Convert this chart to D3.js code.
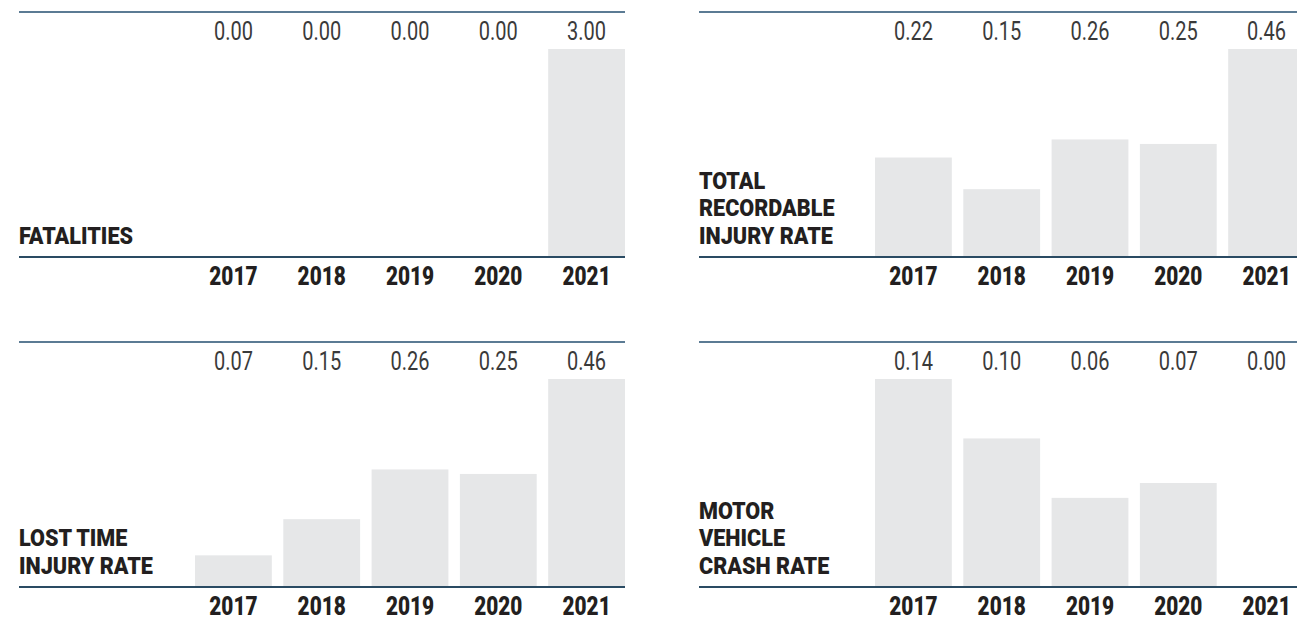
<!DOCTYPE html>
<html>
<head>
<meta charset="utf-8">
<script src="https://cdn.jsdelivr.net/npm/d3@7"></script>
<style>
  body { margin: 0; background: #fff; }
  svg { display: block; }
  .title { font-family: Roboto, 'DejaVu Sans Condensed', sans-serif; font-weight: 900; font-size: 24px; fill: #231f20; }
  .year { font-family: Roboto, 'DejaVu Sans Condensed', sans-serif; font-weight: 900; font-size: 26px; fill: #231f20; }
  .value { font-family: Roboto, 'DejaVu Sans Condensed', sans-serif; font-weight: 400; font-size: 25px; fill: #3a3a3a; }
</style>
</head>
<body>
<svg id="chart"></svg>
<script>
const YEARS = ['2017', '2018', '2019', '2020', '2021'];

const FATALITIES = [0.00, 0.00, 0.00, 0.00, 3.00];
const TRIR = [0.22, 0.15, 0.26, 0.25, 0.46];
const LTIR = [0.07, 0.15, 0.26, 0.25, 0.46];
const MVCR = [0.14, 0.10, 0.06, 0.07, 0.00];

const PANELS = [
    { title: ['FATALITIES'], values: FATALITIES },
    { title: ['TOTAL', 'RECORDABLE', 'INJURY RATE'], values: TRIR },
    { title: ['LOST TIME', 'INJURY RATE'], values: LTIR },
    { title: ['MOTOR', 'VEHICLE', 'CRASH RATE'], values: MVCR }
];

const WIDTH = 1297;
const HEIGHT = 618;
const PANEL_W = 606;
const PANEL_H = 245;       // top rule to baseline
const COL_X = [19, 699];
const ROW_Y = [12, 342];
const CONDENSE = 0.8;      // no narrow font installed, squeeze Roboto

const svg = d3.select('#chart')
    .attr('width', WIDTH)
    .attr('height', HEIGHT);

// bars sit on the right part of each panel
const xScale = d3.scaleBand()
    .domain(YEARS)
    .range([176, 606])
    .paddingInner(0.13)
    .paddingOuter(0);

PANELS.forEach((panel, i) => {
    const g = svg.append('g')
        .attr('transform', `translate(${COL_X[i % 2]}, ${ROW_Y[Math.floor(i / 2)]})`);

    const yScale = d3.scaleLinear()
        .domain([0, d3.max(panel.values)])
        .range([PANEL_H, 37]);

    g.selectAll('.bar')
        .data(panel.values)
        .enter()
        .append('rect')
        .classed('bar', true)
        .attr('x', (d, j) => xScale(YEARS[j]))
        .attr('width', xScale.bandwidth())
        .attr('y', d => yScale(d))
        .attr('height', d => PANEL_H - yScale(d))
        .attr('fill', '#e6e7e8');

    // top rule
    g.append('line')
        .attr('x1', 0).attr('x2', PANEL_W)
        .attr('y1', 0).attr('y2', 0)
        .attr('stroke', '#5b7b94')
        .attr('stroke-width', 2);

    // baseline
    g.append('line')
        .attr('x1', 0).attr('x2', PANEL_W)
        .attr('y1', PANEL_H).attr('y2', PANEL_H)
        .attr('stroke', '#2a4b63')
        .attr('stroke-width', 2);

    g.selectAll('.value')
        .data(panel.values)
        .enter()
        .append('text')
        .classed('value', true)
        .attr('transform', (d, j) => `translate(${xScale(YEARS[j]) + xScale.bandwidth() / 2}, 28) scale(0.8, 1)`)
        .attr('text-anchor', 'middle')
        .text(d => d3.format('.2f')(d));

    const xAxis = g.append('g')
        .attr('transform', `translate(0, ${PANEL_H})`)
        .call(d3.axisBottom(xScale).tickSize(0).tickPadding(0));
    xAxis.select('.domain').remove();
    xAxis.attr('font-size', null).attr('font-family', null);
    xAxis.selectAll('text')
        .attr('class', 'year')
        .attr('dy', null)
        .attr('y', 28)
        .attr('transform', `scale(${CONDENSE}, 1)`);

    const lines = panel.title;
    g.append('text')
        .classed('title', true)
        .attr('transform', 'scale(0.9, 1)')
        .selectAll('tspan')
        .data(lines)
        .enter()
        .append('tspan')
        .attr('x', 0)
        .attr('y', (d, k) => PANEL_H - 13 - (lines.length - 1 - k) * 27.5)
        .text(d => d);
});
</script>
</body>
</html>
